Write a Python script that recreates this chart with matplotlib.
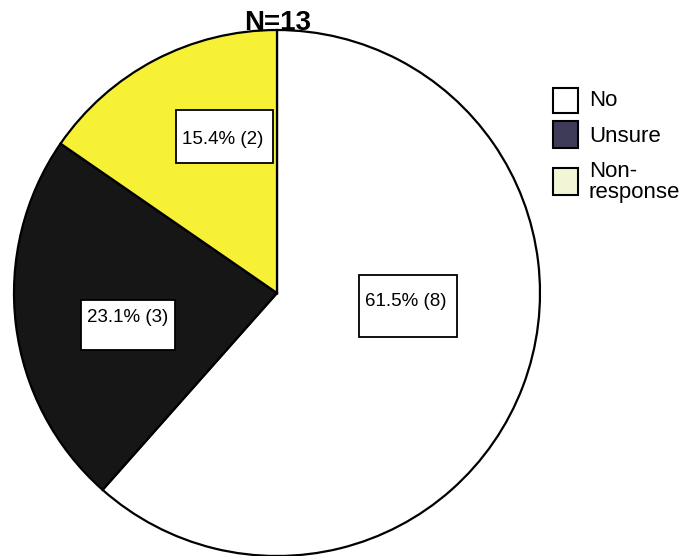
import matplotlib.pyplot as plt
from matplotlib.patches import Rectangle

plt.rcParams['font.family'] = ['Liberation Sans', 'DejaVu Sans']

# survey answers
labels = ['No', 'Unsure', 'Non-\nresponse']
counts = [8, 3, 2]
slice_colors = ['#ffffff', '#161616', '#f7f136']
legend_colors = ['#ffffff', '#3d3b58', '#f3f6d6']
total = sum(counts)

W, H = 687, 556
fig = plt.figure(figsize=(W / 100, H / 100), dpi=100)


def fx(x):
    return x / W


def fy(y):
    return 1 - y / H


# pie axes: centre (277, 293) px, radius 263 px
cx, cy, r = 277, 293, 263
ax = fig.add_axes([fx(cx - r), fy(cy + r), 2 * r / W, 2 * r / H])
wedges, _ = ax.pie(counts, colors=slice_colors, startangle=90, counterclock=False,
                   wedgeprops=dict(edgecolor='black', linewidth=1.6))
for w in wedges:
    w.set_clip_on(False)
ax.set_xlim(-1, 1)
ax.set_ylim(-1, 1)
ax.set_aspect('auto')

fig.text(fx(cx + 1), fy(30), 'N=%d' % total, ha='center', va='baseline',
         fontsize=20, fontweight='bold')

# value boxes (left, top, right, bottom in px)
boxes = [(359, 275, 457, 337), (81, 300, 175, 350), (176, 110, 273, 163)]
text_y = [302, 317, 139]
for n, (x0, y0, x1, y1), ty in zip(counts, boxes, text_y):
    fig.add_artist(Rectangle((fx(x0), fy(y1)), fx(x1 - x0), (y1 - y0) / H,
                             transform=fig.transFigure, facecolor='white',
                             edgecolor='black', linewidth=1.3))
    fig.text(fx(x0 + 6), fy(ty), '%.1f%% (%d)' % (100 * n / total, n),
             ha='left', va='center', fontsize=13.5)

# legend
leg_boxes = [(88, 113), (121, 148), (168, 195)]
leg_text_y = [100, 136, 182]
for lab, col, (y0, y1), ty in zip(labels, legend_colors, leg_boxes, leg_text_y):
    fig.add_artist(Rectangle((fx(553), fy(y1)), fx(25), (y1 - y0) / H,
                             transform=fig.transFigure, facecolor=col,
                             edgecolor='black', linewidth=1.5))
    fig.text(fx(589), fy(ty), lab, ha='left', va='center', fontsize=16,
             linespacing=0.95)

fig.savefig('out.png', dpi=100)
